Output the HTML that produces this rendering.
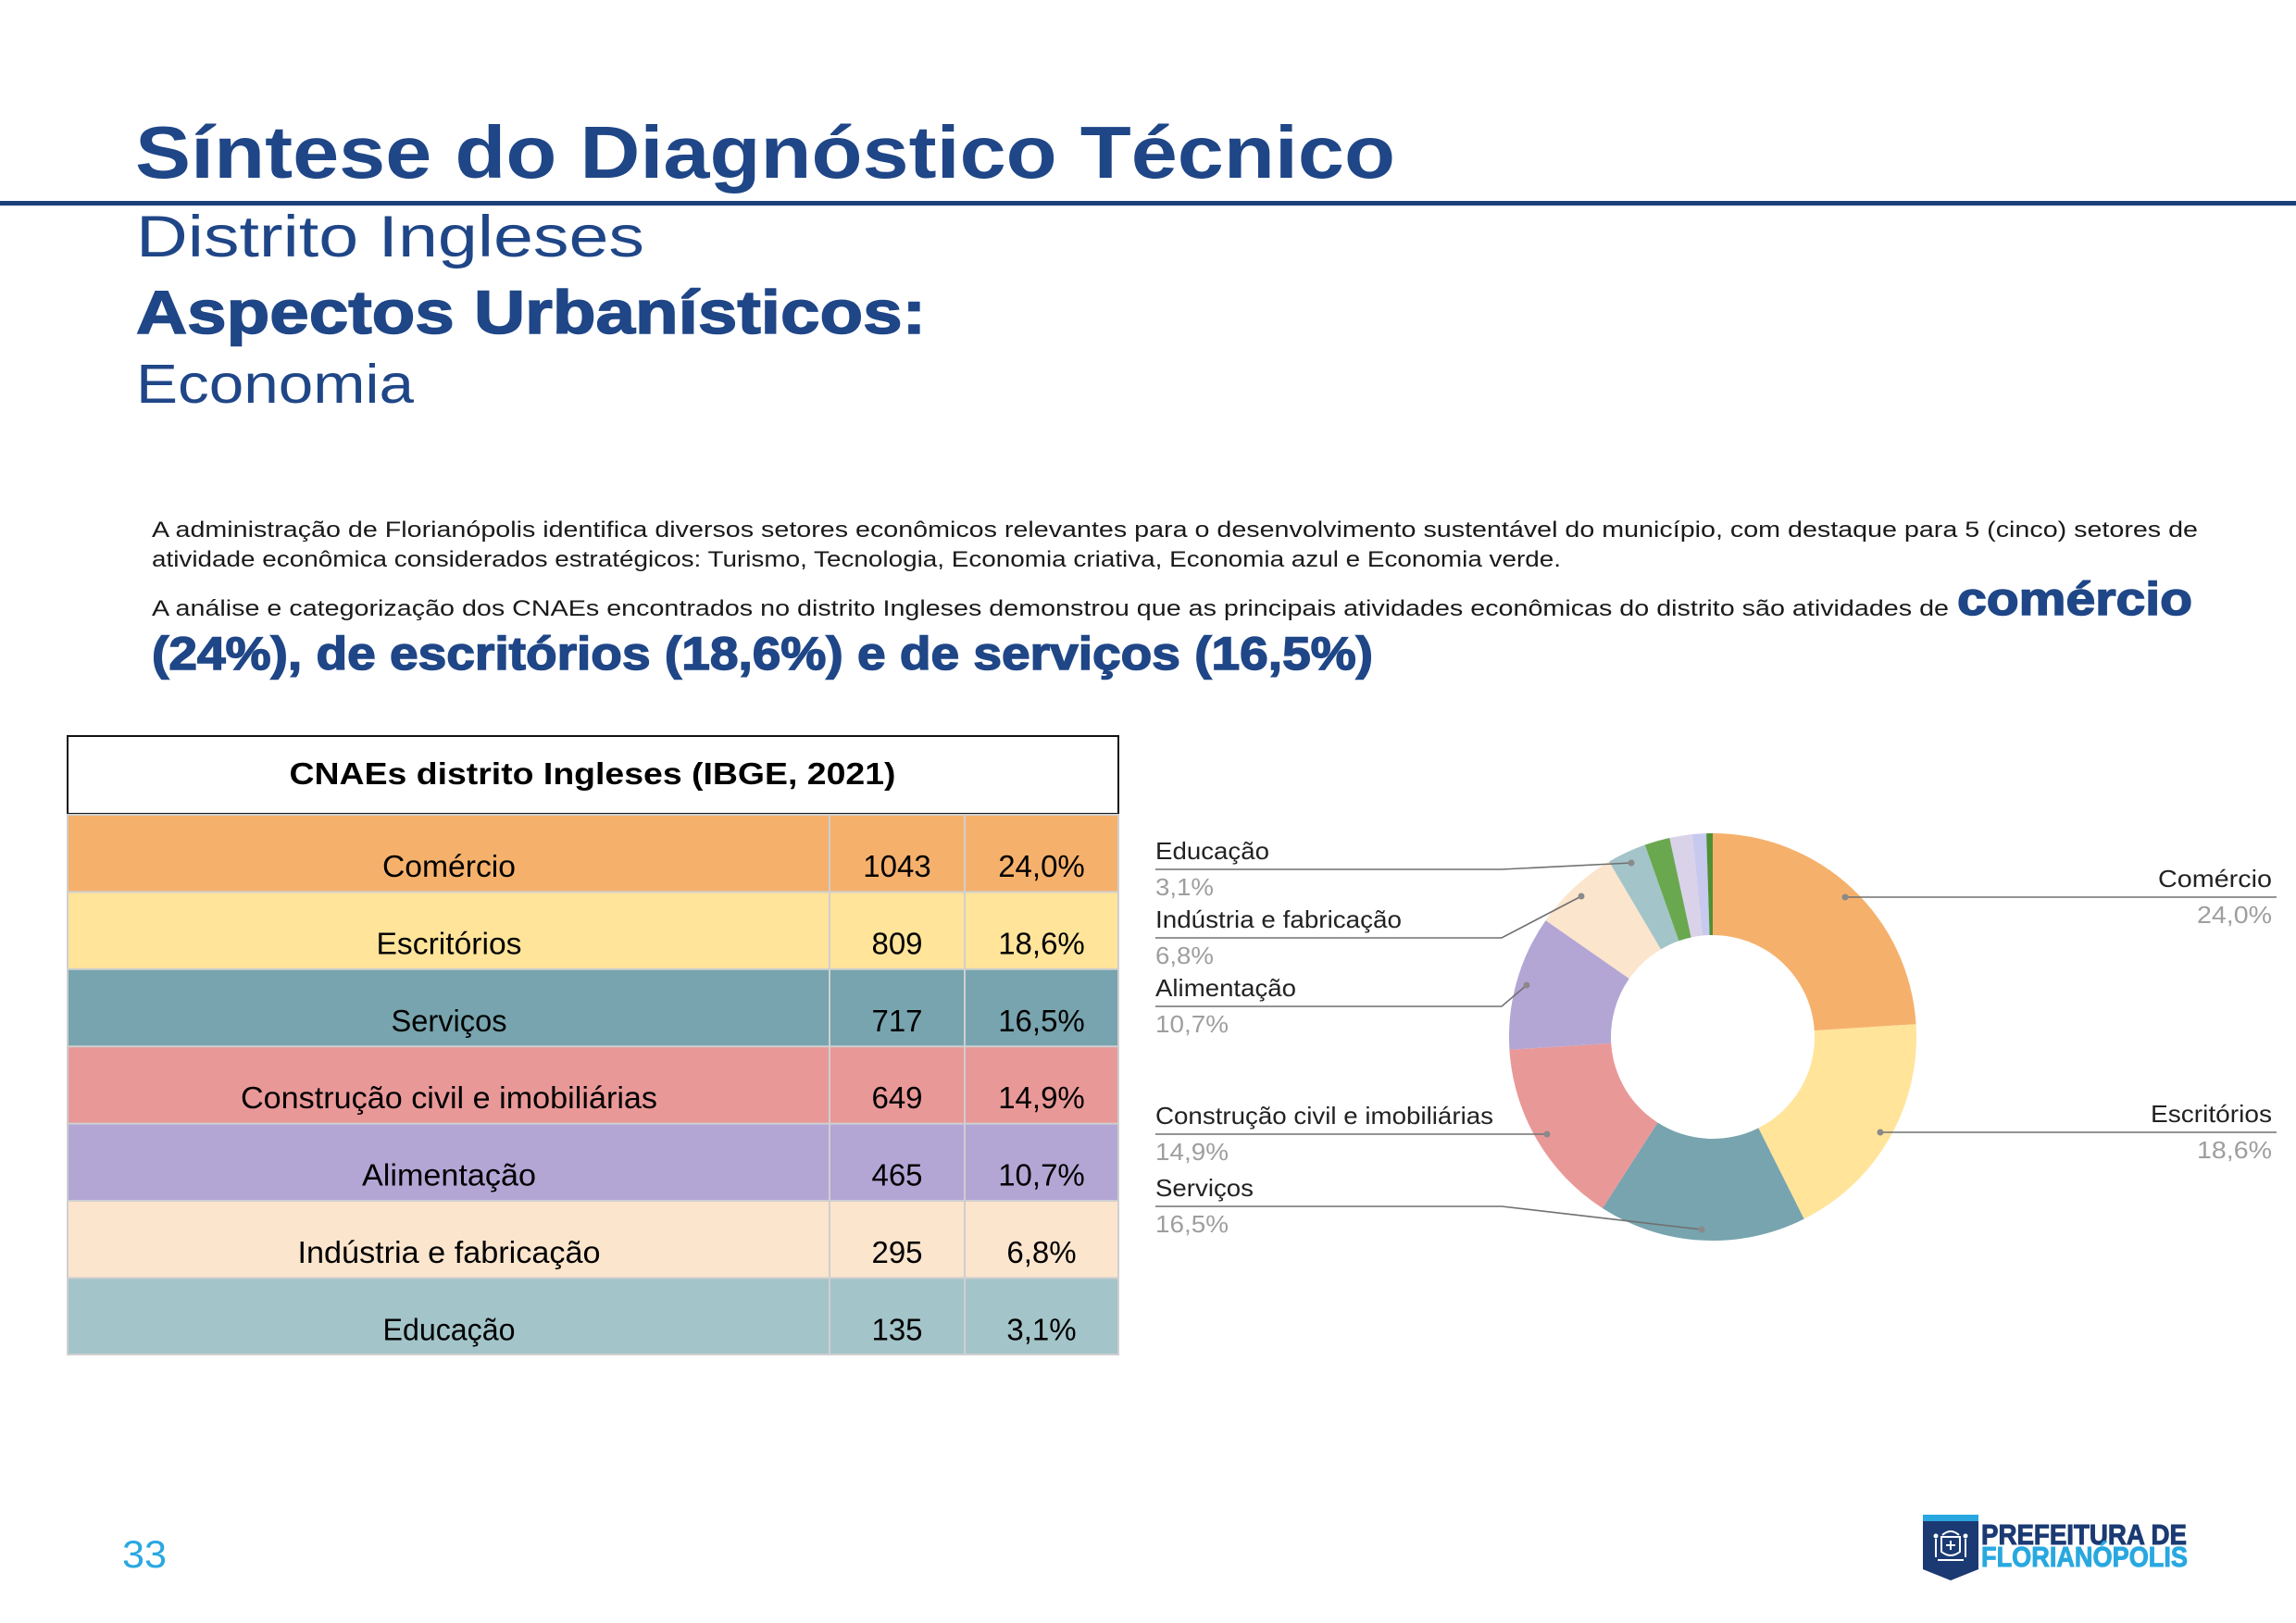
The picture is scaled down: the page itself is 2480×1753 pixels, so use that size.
<!DOCTYPE html>
<html>
<head>
<meta charset="utf-8">
<style>
html,body{margin:0;padding:0;background:#fff;}
svg{display:block;}
</style>
</head>
<body>
<svg width="2480" height="1753" viewBox="0 0 2480 1753" xmlns="http://www.w3.org/2000/svg">
<rect x="0" y="0" width="2480" height="1753" fill="#ffffff"/>

<!-- Header -->
<text x="146" y="192" font-family="Liberation Sans, sans-serif" font-weight="bold" font-size="80" fill="#1f4687" textLength="1361" lengthAdjust="spacingAndGlyphs">Síntese do Diagnóstico Técnico</text>
<rect x="0" y="217" width="2480" height="5" fill="#1c3f7a"/>
<text x="147" y="277" font-family="Liberation Sans, sans-serif" font-size="63" fill="#1f4687" textLength="549" lengthAdjust="spacingAndGlyphs">Distrito Ingleses</text>
<text x="147" y="360" font-family="Liberation Sans, sans-serif" font-weight="bold" font-size="66" fill="#1f4687" stroke="#1f4687" stroke-width="1.5" textLength="853" lengthAdjust="spacingAndGlyphs">Aspectos Urbanísticos:</text>
<text x="147" y="435" font-family="Liberation Sans, sans-serif" font-size="59" fill="#1f4687" textLength="300" lengthAdjust="spacingAndGlyphs">Economia</text>

<!-- Paragraph -->
<g font-family="Liberation Sans, sans-serif" font-size="24" fill="#1a1a1a">
<text x="164" y="580" textLength="2210" lengthAdjust="spacingAndGlyphs">A administração de Florianópolis identifica diversos setores econômicos relevantes para o desenvolvimento sustentável do município, com destaque para 5 (cinco) setores de</text>
<text x="164" y="612" textLength="1522" lengthAdjust="spacingAndGlyphs">atividade econômica considerados estratégicos: Turismo, Tecnologia, Economia criativa, Economia azul e Economia verde.</text>
<text x="164" y="665" textLength="1941" lengthAdjust="spacingAndGlyphs">A análise e categorização dos CNAEs encontrados no distrito Ingleses demonstrou que as principais atividades econômicas do distrito são atividades de</text>
</g>
<g font-family="Liberation Sans, sans-serif" font-weight="bold" font-size="50" fill="#1f4687" stroke="#1f4687" stroke-width="1.5">
<text x="2114" y="664" textLength="254" lengthAdjust="spacingAndGlyphs">comércio</text>
<text x="164" y="723" textLength="1319" lengthAdjust="spacingAndGlyphs">(24%), de escritórios (18,6%) e de serviços (16,5%)</text>
</g>

<!-- Table -->
<rect x="73" y="795" width="1135" height="84" fill="#ffffff" stroke="#111" stroke-width="2"/>
<text x="640" y="847" text-anchor="middle" font-family="Liberation Sans, sans-serif" font-weight="bold" font-size="33" fill="#000" textLength="655" lengthAdjust="spacingAndGlyphs">CNAEs distrito Ingleses (IBGE, 2021)</text>

<g>
<rect x="73" y="880" width="1135" height="83.4" fill="#f5b16c"/>
<rect x="73" y="963.4" width="1135" height="83.4" fill="#ffe49a"/>
<rect x="73" y="1046.8" width="1135" height="83.4" fill="#77a4ae"/>
<rect x="73" y="1130.2" width="1135" height="83.4" fill="#e99898"/>
<rect x="73" y="1213.6" width="1135" height="83.4" fill="#b3a6d5"/>
<rect x="73" y="1297" width="1135" height="83.4" fill="#fce5cd"/>
<rect x="73" y="1380.4" width="1135" height="83" fill="#a3c4c9"/>
</g>
<g stroke="#cfcfcf" stroke-width="2" fill="none">
<line x1="73" y1="963.4" x2="1208" y2="963.4"/>
<line x1="73" y1="1046.8" x2="1208" y2="1046.8"/>
<line x1="73" y1="1130.2" x2="1208" y2="1130.2"/>
<line x1="73" y1="1213.6" x2="1208" y2="1213.6"/>
<line x1="73" y1="1297" x2="1208" y2="1297"/>
<line x1="73" y1="1380.4" x2="1208" y2="1380.4"/>
<line x1="896" y1="880" x2="896" y2="1463"/>
<line x1="1042" y1="880" x2="1042" y2="1463"/>
<rect x="73" y="880" width="1135" height="583"/>
</g>
<g font-family="Liberation Sans, sans-serif" font-size="33" fill="#000" text-anchor="middle">
<text x="485" y="947" textLength="144" lengthAdjust="spacingAndGlyphs">Comércio</text>
<text x="485" y="1030.4" textLength="157" lengthAdjust="spacingAndGlyphs">Escritórios</text>
<text x="485" y="1113.8" textLength="125" lengthAdjust="spacingAndGlyphs">Serviços</text>
<text x="485" y="1197.2" textLength="450" lengthAdjust="spacingAndGlyphs">Construção civil e imobiliárias</text>
<text x="485" y="1280.6" textLength="188" lengthAdjust="spacingAndGlyphs">Alimentação</text>
<text x="485" y="1364" textLength="327" lengthAdjust="spacingAndGlyphs">Indústria e fabricação</text>
<text x="485" y="1447.4" textLength="143" lengthAdjust="spacingAndGlyphs">Educação</text>

<text x="969" y="947">1043</text>
<text x="969" y="1030.4">809</text>
<text x="969" y="1113.8">717</text>
<text x="969" y="1197.2">649</text>
<text x="969" y="1280.6">465</text>
<text x="969" y="1364">295</text>
<text x="969" y="1447.4">135</text>

<text x="1125" y="947">24,0%</text>
<text x="1125" y="1030.4">18,6%</text>
<text x="1125" y="1113.8">16,5%</text>
<text x="1125" y="1197.2">14,9%</text>
<text x="1125" y="1280.6">10,7%</text>
<text x="1125" y="1364">6,8%</text>
<text x="1125" y="1447.4">3,1%</text>
</g>

<!-- Donut chart -->
<g stroke="none">
<path d="M1850,900 A220,220 0 0 1 2069.57,1106.19 L1959.78,1113.09 A110,110 0 0 0 1850,1010 Z" fill="#f5b16c"/>
<path d="M2069.57,1106.19 A220,220 0 0 1 1948.65,1316.64 L1899.33,1218.32 A110,110 0 0 0 1959.78,1113.09 Z" fill="#ffe49a"/>
<path d="M1948.65,1316.64 A220,220 0 0 1 1730.96,1305.01 L1790.48,1212.51 A110,110 0 0 0 1899.33,1218.32 Z" fill="#77a4ae"/>
<path d="M1730.96,1305.01 A220,220 0 0 1 1630.43,1133.81 L1740.22,1126.91 A110,110 0 0 0 1790.48,1212.51 Z" fill="#e99898"/>
<path d="M1630.43,1133.81 A220,220 0 0 1 1669.58,994.11 L1759.79,1057.06 A110,110 0 0 0 1740.22,1126.91 Z" fill="#b3a6d5"/>
<path d="M1669.58,994.11 A220,220 0 0 1 1738.01,930.64 L1794.01,1025.32 A110,110 0 0 0 1759.79,1057.06 Z" fill="#fce5cd"/>
<path d="M1738.01,930.64 A220,220 0 0 1 1776.78,912.54 L1813.39,1016.27 A110,110 0 0 0 1794.01,1025.32 Z" fill="#a3c4c9"/>
<path d="M1776.78,912.54 A220,220 0 0 1 1803.36,905.00 L1826.68,1012.50 A110,110 0 0 0 1813.39,1016.27 Z" fill="#6aa84f"/>
<path d="M1803.36,905.00 A220,220 0 0 1 1827.92,901.11 L1838.96,1010.55 A110,110 0 0 0 1826.68,1012.50 Z" fill="#d9d2e9"/>
<path d="M1827.92,901.11 A220,220 0 0 1 1843.09,900.11 L1846.54,1010.05 A110,110 0 0 0 1838.96,1010.55 Z" fill="#c7c9ef"/>
<path d="M1843.09,900.11 A220,220 0 0 1 1850,900 L1850,1010 A110,110 0 0 0 1846.54,1010.05 Z" fill="#4f8f35"/>
</g>

<!-- Leader lines -->
<g stroke="#707070" stroke-width="1.6" fill="none">
<polyline points="1248,939 1622,939 1762,932"/>
<polyline points="1248,1013 1622,1013 1708,968"/>
<polyline points="1248,1087 1622,1087 1649,1064"/>
<polyline points="1248,1225 1671,1225"/>
<polyline points="1248,1303 1622,1303 1838,1328"/>
<polyline points="1993,969 2459,969"/>
<polyline points="2031,1223 2459,1223"/>
</g>
<g fill="#8a8a8a">
<circle cx="1762" cy="932" r="3.5"/>
<circle cx="1708" cy="968" r="3.5"/>
<circle cx="1649" cy="1064" r="3.5"/>
<circle cx="1671" cy="1225" r="3.5"/>
<circle cx="1838" cy="1328" r="3.5"/>
<circle cx="1993" cy="969" r="3.5"/>
<circle cx="2031" cy="1223" r="3.5"/>
</g>

<!-- Chart labels -->
<g font-family="Liberation Sans, sans-serif" font-size="26" fill="#222">
<text x="1248" y="928" textLength="123" lengthAdjust="spacingAndGlyphs">Educação</text>
<text x="1248" y="1002" textLength="266" lengthAdjust="spacingAndGlyphs">Indústria e fabricação</text>
<text x="1248" y="1076" textLength="152" lengthAdjust="spacingAndGlyphs">Alimentação</text>
<text x="1248" y="1214" textLength="365" lengthAdjust="spacingAndGlyphs">Construção civil e imobiliárias</text>
<text x="1248" y="1292" textLength="106" lengthAdjust="spacingAndGlyphs">Serviços</text>
<text x="2331" y="958" textLength="123" lengthAdjust="spacingAndGlyphs">Comércio</text>
<text x="2323" y="1212" textLength="131" lengthAdjust="spacingAndGlyphs">Escritórios</text>
</g>
<g font-family="Liberation Sans, sans-serif" font-size="26" fill="#9e9e9e">
<text x="1248" y="967" textLength="63" lengthAdjust="spacingAndGlyphs">3,1%</text>
<text x="1248" y="1041" textLength="63" lengthAdjust="spacingAndGlyphs">6,8%</text>
<text x="1248" y="1115" textLength="79" lengthAdjust="spacingAndGlyphs">10,7%</text>
<text x="1248" y="1253" textLength="79" lengthAdjust="spacingAndGlyphs">14,9%</text>
<text x="1248" y="1331" textLength="79" lengthAdjust="spacingAndGlyphs">16,5%</text>
<text x="2373" y="997" textLength="81" lengthAdjust="spacingAndGlyphs">24,0%</text>
<text x="2373" y="1251" textLength="81" lengthAdjust="spacingAndGlyphs">18,6%</text>
</g>

<!-- Page number -->
<text x="132" y="1693" font-family="Liberation Sans, sans-serif" font-size="42" fill="#29a8e0" textLength="48" lengthAdjust="spacingAndGlyphs">33</text>

<!-- Logo -->
<path d="M2077,1643 H2137 V1695 L2107,1707 L2077,1695 Z" fill="#1b3a73"/>
<rect x="2077" y="1636" width="60" height="7" fill="#29a8e0"/>
<g fill="none" stroke="#ffffff" stroke-width="2">
<path d="M2097,1660 H2117 V1676 Q2107,1684 2097,1676 Z"/>
<line x1="2107" y1="1664" x2="2107" y2="1674"/>
<line x1="2102" y1="1669" x2="2112" y2="1669"/>
<path d="M2098,1658 Q2107,1650 2116,1658"/>
<path d="M2091,1662 V1682"/>
<path d="M2123,1662 V1682"/>
<path d="M2093,1685 H2121"/>
</g>
<circle cx="2091" cy="1659" r="2.5" fill="#fff"/>
<circle cx="2123" cy="1659" r="2.5" fill="#fff"/>
<text x="2140" y="1668" font-family="Liberation Sans, sans-serif" font-weight="bold" font-size="31" fill="#1b3a73" stroke="#1b3a73" stroke-width="1" textLength="222" lengthAdjust="spacingAndGlyphs">PREFEITURA DE</text>
<text x="2140" y="1692" font-family="Liberation Sans, sans-serif" font-weight="bold" font-size="31" fill="#29a8e0" stroke="#29a8e0" stroke-width="1" textLength="223" lengthAdjust="spacingAndGlyphs">FLORIANÓPOLIS</text>
</svg>
</body>
</html>
